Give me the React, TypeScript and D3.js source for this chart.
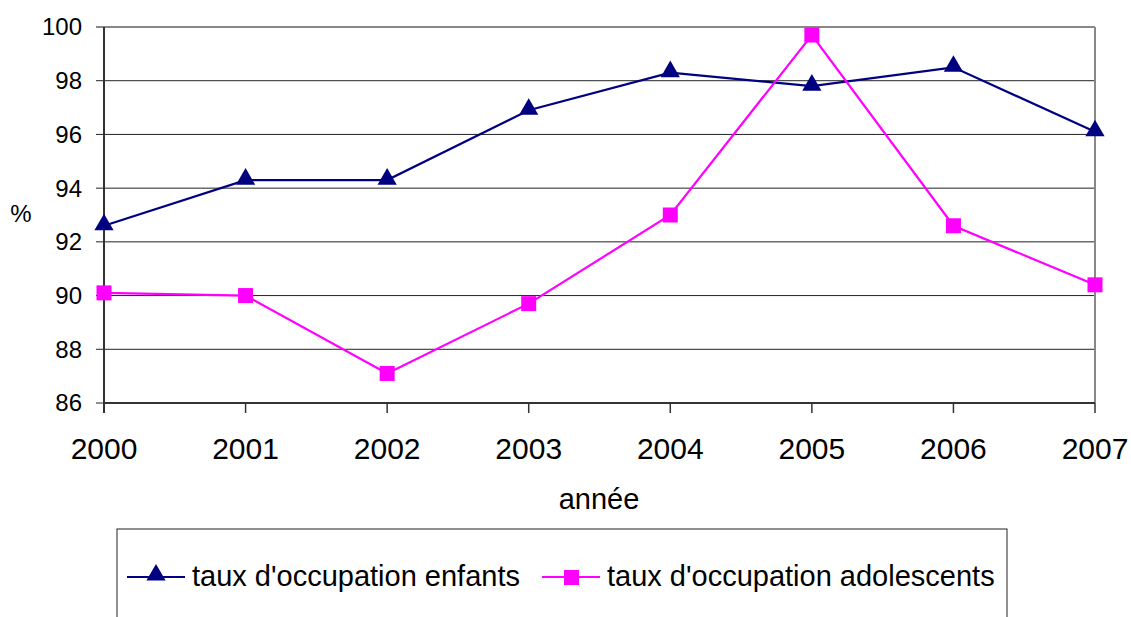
import React from 'react';
import * as d3 from 'd3';

const years = ['2000', '2001', '2002', '2003', '2004', '2005', '2006', '2007'];
const enfants = [92.6, 94.3, 94.3, 96.9, 98.3, 97.8, 98.5, 96.1];
const adolescents = [90.1, 90.0, 87.1, 89.7, 93.0, 99.7, 92.6, 90.4];
const yTicks = [86, 88, 90, 92, 94, 96, 98, 100];
const seriesNames = ["taux d'occupation enfants", "taux d'occupation adolescents"];

const width = 1131;
const height = 617;
const marginLeft = 104;
const marginRight = 36;
const marginTop = 27;
const plotBottom = 403;
const font = '"Liberation Sans", Arial, sans-serif';

export default function App() {
    const x = d3.scalePoint<string>()
        .domain(years)
        .range([marginLeft, width - marginRight]);

    const y = d3.scaleLinear()
        .domain([86, 100])
        .range([plotBottom, marginTop]);

    const line = d3.line<number>()
        .x((d, i) => x(years[i]) as number)
        .y(d => y(d));

    const tri = d3.symbol(d3.symbolTriangle, 160)();
    const sq = 15;

    return (
        <svg width={width} height={height} style={{ position: 'absolute', left: 0, top: 0, fontFamily: font }}>
            <rect width={width} height={height} fill="#fff" />
            {yTicks.map(t => (
                <g key={t}>
                    <line x1={marginLeft - 8} x2={width - marginRight} y1={y(t)} y2={y(t)}
                        stroke={t === 100 ? '#888' : '#222'} strokeWidth={t === 100 ? 2 : 1} />
                    <text x={82} y={y(t)} dy="0.35em" textAnchor="end" fontSize={24} fill="#000">{t}</text>
                </g>
            ))}
            <line x1={width - marginRight} x2={width - marginRight} y1={marginTop} y2={plotBottom} stroke="#888" strokeWidth={2} />
            <line x1={marginLeft} x2={marginLeft} y1={marginTop} y2={plotBottom + 10} stroke="#333" strokeWidth={2} />
            <line x1={marginLeft} x2={width - marginRight} y1={plotBottom} y2={plotBottom} stroke="#333" strokeWidth={2} />
            {years.map(yr => (
                <g key={yr}>
                    <line x1={x(yr)} x2={x(yr)} y1={plotBottom} y2={plotBottom + 10} stroke="#333" strokeWidth={1.5} />
                    <text x={x(yr)} y={459} textAnchor="middle" fontSize={30} fill="#000">{yr}</text>
                </g>
            ))}
            <text x={21} y={222} textAnchor="middle" fontSize={24} fill="#000">%</text>
            <text x={599} y={509} textAnchor="middle" fontSize={29} fill="#000">année</text>

            <path d={line(enfants) || ''} fill="none" stroke="#000080" strokeWidth={2.2} />
            {enfants.map((v, i) => (
                <path key={i} d={tri || ''} transform={`translate(${x(years[i])},${y(v) - 1})`} fill="#000080" />
            ))}
            <path d={line(adolescents) || ''} fill="none" stroke="#ff00ff" strokeWidth={2.2} />
            {adolescents.map((v, i) => (
                <rect key={i} x={(x(years[i]) as number) - sq / 2} y={y(v) - sq / 2} width={sq} height={sq} fill="#ff00ff" />
            ))}

            <rect x={117} y={529} width={890} height={120} fill="none" stroke="#222" strokeWidth={1} />
            <line x1={127} x2={185} y1={577} y2={577} stroke="#000080" strokeWidth={2.2} />
            <path d={tri || ''} transform={`translate(156,575)`} fill="#000080" />
            <text x={192} y={586} fontSize={29} fill="#000">{seriesNames[0]}</text>
            <line x1={542} x2={600} y1={577} y2={577} stroke="#ff00ff" strokeWidth={2.2} />
            <rect x={564} y={570} width={15} height={15} fill="#ff00ff" />
            <text x={607} y={586} fontSize={29} fill="#000">{seriesNames[1]}</text>
        </svg>
    );
}
